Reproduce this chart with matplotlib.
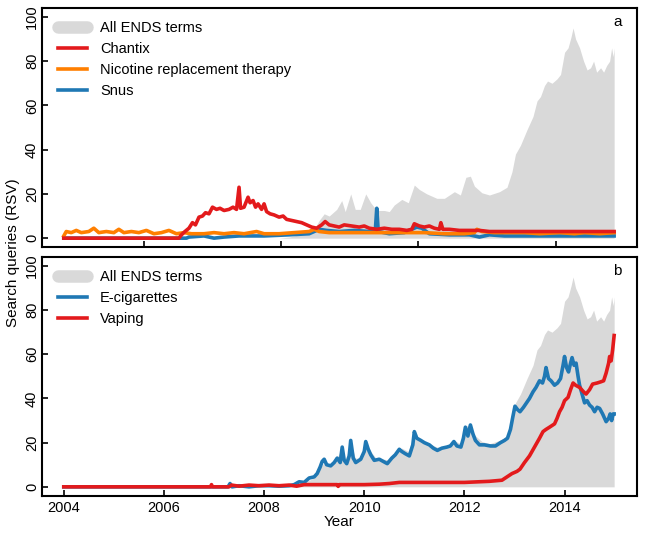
import matplotlib
matplotlib.use("Agg")
import matplotlib.pyplot as plt
from matplotlib.lines import Line2D
import numpy as np

plt.rcParams['font.family'] = ['Liberation Sans', 'DejaVu Sans']

# ---------------- data ----------------
ends_t = [2004.0, 2008.3, 2008.5, 2008.7, 2008.9, 2009.0, 2009.1, 2009.2, 2009.3, 2009.45, 2009.55,
          2009.62, 2009.73, 2009.82, 2009.92, 2010.03, 2010.13, 2010.25, 2010.4, 2010.5, 2010.6,
          2010.75, 2010.88, 2011.0, 2011.1, 2011.25, 2011.45, 2011.6, 2011.8, 2011.92, 2012.03,
          2012.12, 2012.2, 2012.35, 2012.5, 2012.7, 2012.85, 2012.95, 2013.02, 2013.12, 2013.25,
          2013.37, 2013.45, 2013.52, 2013.6, 2013.66, 2013.75, 2013.85, 2013.92, 2014.0, 2014.07,
          2014.13, 2014.17, 2014.22, 2014.3, 2014.38, 2014.45, 2014.52, 2014.58, 2014.64, 2014.72,
          2014.78, 2014.84, 2014.9, 2014.94, 2014.97, 2014.99]
ends_v = [0, 0, 0.5, 1.5, 3, 4, 8, 11, 10, 13, 17,
          12, 20, 13, 13, 20, 16, 12.5, 12.5, 12, 15,
          17.5, 16, 24, 22, 20, 18, 18, 21, 19.5, 27.5,
          28, 23.5, 20.5, 19.5, 21, 23, 30, 38, 42, 49,
          55, 62, 64, 69, 71, 70, 72, 74, 84, 86,
          91, 95, 90, 86, 80, 76, 77, 80, 75, 77,
          75, 78, 80, 86, 82, 86]

chantix_t = [2004.0, 2006.3, 2006.35, 2006.42, 2006.5, 2006.57, 2006.63, 2006.7, 2006.77, 2006.83,
             2006.9, 2006.97, 2007.05, 2007.12, 2007.2, 2007.3, 2007.38, 2007.45, 2007.5, 2007.53,
             2007.6, 2007.68, 2007.72, 2007.78, 2007.83, 2007.88, 2007.95, 2008.0, 2008.05, 2008.12,
             2008.2, 2008.3, 2008.38, 2008.45, 2008.55, 2008.65, 2008.75, 2008.85, 2008.95, 2009.05,
             2009.15, 2009.22, 2009.3, 2009.4, 2009.5, 2009.6, 2009.75, 2009.9, 2010.0, 2010.1,
             2010.25, 2010.4, 2010.55, 2010.7, 2010.85, 2010.95, 2011.0, 2011.1, 2011.2, 2011.3,
             2011.4, 2011.5, 2011.53, 2011.57, 2011.7, 2011.9, 2012.1, 2012.3, 2012.5, 2012.8,
             2013.0, 2013.3, 2013.6, 2013.9, 2014.2, 2014.5, 2014.8, 2014.99]
chantix_v = [0, 0, 1.5, 3, 4.5, 7, 6, 9.5, 10, 11.5,
             11, 14, 13, 13.5, 12.5, 13, 14, 13, 23, 13.5,
             14, 18.5, 16, 17, 14, 15.5, 13, 15.5, 12, 11,
             10.5, 9.5, 10, 8.5, 8, 7.5, 7, 6, 5, 4.5,
             6, 7.5, 6, 5.5, 5, 6, 5.5, 5, 5.5, 4.5,
             4, 4.5, 4, 4, 3.5, 4, 6.5, 5.5, 5, 5.5,
             4.5, 4, 7, 4, 4, 3.5, 3.5, 3.5, 3, 3,
             3, 3, 3, 3, 3, 3, 3, 3]

nrt_t = [2004.0, 2004.05, 2004.15, 2004.25, 2004.35, 2004.5, 2004.6, 2004.7, 2004.85, 2005.0,
         2005.1, 2005.2, 2005.35, 2005.5, 2005.65, 2005.8, 2005.95, 2006.1, 2006.25, 2006.4,
         2006.55, 2006.8, 2007.0, 2007.2, 2007.4, 2007.6, 2007.85, 2008.0, 2008.3, 2008.6,
         2008.9, 2009.0, 2009.1, 2009.3, 2009.6, 2010.0, 2010.4, 2010.8, 2011.2, 2011.6,
         2012.0, 2012.2, 2012.25, 2012.35, 2012.6, 2012.9, 2013.2, 2013.5, 2013.9, 2014.2,
         2014.4, 2014.7, 2014.99]
nrt_v = [1, 3, 2.5, 3.5, 2.5, 3, 4.5, 2.5, 3, 2.5,
         4, 2.5, 3, 2.5, 3.5, 2, 2.5, 3.5, 2, 2.5,
         2, 2, 2.5, 2, 2.5, 2, 3, 2, 2, 2.5,
         3, 4, 3, 2.5, 2.5, 2.5, 2.5, 2.5, 2.5, 2,
         2, 2.5, 4, 3, 2.5, 2.5, 2.5, 2, 2.5, 2,
         2.5, 2, 2.5]

snus_t = [2004.0, 2006.45, 2006.5, 2006.8, 2007.0, 2007.2, 2007.5, 2008.0, 2008.5, 2008.9,
          2009.1, 2009.25, 2009.5, 2009.8, 2010.1, 2010.22, 2010.25, 2010.28, 2010.5, 2010.8,
          2011.05, 2011.15, 2011.3, 2011.7, 2012.1, 2012.3, 2012.5, 2012.8, 2013.2, 2013.6,
          2014.0, 2014.5, 2014.99]
snus_v = [0, 0, 0.5, 1, 0, 0.5, 1, 1, 1.5, 2,
          4, 3.5, 3, 3.5, 3, 3, 13.5, 3, 2, 2.5,
          5, 4.5, 2, 1.5, 1.5, 0.5, 1.5, 1, 1, 1,
          1, 1, 1]

ecig_t = [2004.0, 2007.28, 2007.32, 2007.36, 2007.5, 2007.7, 2007.9, 2008.1, 2008.3, 2008.5,
          2008.6, 2008.7, 2008.8, 2008.9, 2009.0, 2009.06, 2009.12, 2009.16, 2009.2, 2009.25,
          2009.33, 2009.4, 2009.46, 2009.52, 2009.56, 2009.6, 2009.65, 2009.7, 2009.73, 2009.78,
          2009.83, 2009.93, 2010.0, 2010.03, 2010.08, 2010.13, 2010.2, 2010.3, 2010.38, 2010.46,
          2010.55, 2010.62, 2010.7, 2010.75, 2010.82, 2010.9, 2010.97, 2011.0, 2011.05, 2011.13,
          2011.2, 2011.3, 2011.38, 2011.46, 2011.55, 2011.65, 2011.72, 2011.79, 2011.85, 2011.93,
          2011.98, 2012.02, 2012.07, 2012.12, 2012.17, 2012.22, 2012.3, 2012.4, 2012.52, 2012.62,
          2012.72, 2012.8, 2012.86, 2012.92, 2012.97, 2013.01, 2013.06, 2013.11, 2013.18, 2013.24,
          2013.3, 2013.37, 2013.43, 2013.5, 2013.56, 2013.6, 2013.63, 2013.68, 2013.73, 2013.8,
          2013.86, 2013.92, 2013.97, 2014.0, 2014.04, 2014.08, 2014.12, 2014.15, 2014.19, 2014.23,
          2014.27, 2014.3, 2014.35, 2014.4, 2014.45, 2014.5, 2014.55, 2014.6, 2014.65, 2014.7,
          2014.76, 2014.83, 2014.88, 2014.91, 2014.94, 2014.97, 2014.99]
ecig_v = [0, 0, 1.5, 0, 0.5, 0, 0.5, 0.5, 0.3, 0.5,
          1, 2.3, 2, 4, 4.5, 6, 9, 11.5, 12.5, 10,
          9.5, 11, 13, 11, 18, 12, 10.5, 14, 21, 13,
          11, 12.5, 16, 20.5, 17, 14.5, 12, 12.5, 11.5, 10.5,
          13, 14.5, 17, 16, 15, 14, 19, 25, 22, 21,
          20, 19, 17.5, 16.5, 17.5, 18, 18.5, 20.5, 18.5, 18,
          22, 27, 23, 28, 24, 21, 19, 19, 18.5, 18.5,
          20, 21, 22, 26, 32, 36.5, 35, 34, 36, 38,
          40, 43, 45, 48, 47, 50, 54, 49, 48, 46,
          47, 49, 55, 59, 54, 52, 56, 58.5, 55, 56,
          50, 46, 42, 38, 39, 37, 36, 34, 36, 35.5,
          33, 29.5, 31, 33, 30, 33, 33]

vaping_t = [2004.0, 2006.93, 2006.95, 2006.97, 2007.3, 2007.35, 2007.5, 2007.7, 2007.9, 2008.1,
            2008.3, 2008.5, 2008.65, 2008.8, 2009.0, 2009.3, 2009.46, 2009.48, 2009.5, 2009.55,
            2010.0, 2010.3, 2010.5, 2010.7, 2011.0, 2011.5, 2012.0, 2012.5, 2012.75, 2012.85,
            2012.95, 2013.05, 2013.11, 2013.2, 2013.3, 2013.4, 2013.5, 2013.57, 2013.63, 2013.7,
            2013.8, 2013.85, 2013.9, 2013.95, 2014.0, 2014.07, 2014.12, 2014.17, 2014.22, 2014.3,
            2014.38, 2014.43, 2014.5, 2014.56, 2014.65, 2014.72, 2014.78, 2014.83, 2014.88, 2014.9,
            2014.93, 2014.96, 2014.99]
vaping_v = [0, 0, 1, 0, 0, 0.8, 0.3, 0.8, 0.5, 0.8,
            0.5, 0.8, 0.3, 1, 1, 1, 1, 0.2, 1, 1,
            1, 1.2, 1.5, 2, 2, 2, 2, 2.5, 3, 4.5,
            6, 7, 8, 11, 14, 18, 22, 25, 26, 27,
            28.5, 31, 34, 36, 39, 40.5, 44, 47, 46, 45,
            43, 42, 44, 46.5, 47, 47.5, 48, 51.5, 56, 59,
            57, 62, 68.5]

x_ticks = [2004, 2006, 2008, 2010, 2012, 2014]
top_x_ticks = [2005.6, 2008.33, 2011.07, 2013.82]
y_ticks = [0, 20, 40, 60, 80, 100]

# ---------------- styling ----------------
C_GRAY = '#d9d9d9'
C_RED = '#e31a1c'
C_ORANGE = '#ff7f00'
C_BLUE = '#1f78b4'
LW = 2.6

fig = plt.figure(figsize=(6.49, 5.35), dpi=100)
ax1 = fig.add_axes([0.0643, 0.5383, 0.9167, 0.4467])
ax2 = fig.add_axes([0.0643, 0.0735, 0.9167, 0.4460])

for ax in (ax1, ax2):
    ax.fill_between(ends_t, 0, ends_v, color=C_GRAY, lw=0, zorder=1)
    ax.set_xlim(2003.56, 2015.44)
    ax.set_ylim(-4, 104)
    ax.set_yticks(y_ticks)
    ax.set_yticklabels([str(v) for v in y_ticks], rotation=90, va='center', fontsize=10.5)
    ax.tick_params(axis='both', direction='in', length=4, width=1.2, colors='black')
    ax.tick_params(axis='y', pad=2)
    for s in ax.spines.values():
        s.set_linewidth(1.5)

# top panel
ax1.plot(snus_t, snus_v, color=C_BLUE, lw=LW, zorder=2)
ax1.plot(nrt_t, nrt_v, color=C_ORANGE, lw=LW, zorder=3)
ax1.plot(chantix_t, chantix_v, color=C_RED, lw=LW, zorder=4)
ax1.set_xticks(top_x_ticks)
ax1.set_xticklabels([])

# bottom panel
ax2.plot(ecig_t, ecig_v, color=C_BLUE, lw=LW, zorder=2)
ax2.plot(vaping_t, vaping_v, color=C_RED, lw=LW, zorder=3)
ax2.set_xticks(x_ticks)
ax2.set_xticklabels([str(v) for v in x_ticks], fontsize=10.5)
ax2.tick_params(axis='x', pad=4)
ax2.set_xlabel('Year', fontsize=11, labelpad=0)

gray_handle = Line2D([0], [0], color=C_GRAY, lw=9, solid_capstyle='round')
h1 = [gray_handle,
      Line2D([0], [0], color=C_RED, lw=2.6),
      Line2D([0], [0], color=C_ORANGE, lw=2.6),
      Line2D([0], [0], color=C_BLUE, lw=2.6)]
ax1.legend(h1, ['All ENDS terms', 'Chantix', 'Nicotine replacement therapy', 'Snus'],
           loc='upper left', frameon=False, fontsize=10.5, handlelength=2.0,
           handletextpad=0.9, labelspacing=0.5, borderaxespad=0.3,
           bbox_to_anchor=(0.01, 0.99))
h2 = [gray_handle,
      Line2D([0], [0], color=C_BLUE, lw=2.6),
      Line2D([0], [0], color=C_RED, lw=2.6)]
ax2.legend(h2, ['All ENDS terms', 'E-cigarettes', 'Vaping'],
           loc='upper left', frameon=False, fontsize=10.5, handlelength=2.0,
           handletextpad=0.9, labelspacing=0.5, borderaxespad=0.3,
           bbox_to_anchor=(0.01, 0.99))

ax1.text(0.975, 0.94, 'a', transform=ax1.transAxes, ha='right', va='center', fontsize=11)
ax2.text(0.975, 0.94, 'b', transform=ax2.transAxes, ha='right', va='center', fontsize=11)

fig.text(0.02, 0.528, 'Search queries (RSV)', rotation=90, ha='center', va='center', fontsize=11)

fig.savefig('out.png', dpi=100)
